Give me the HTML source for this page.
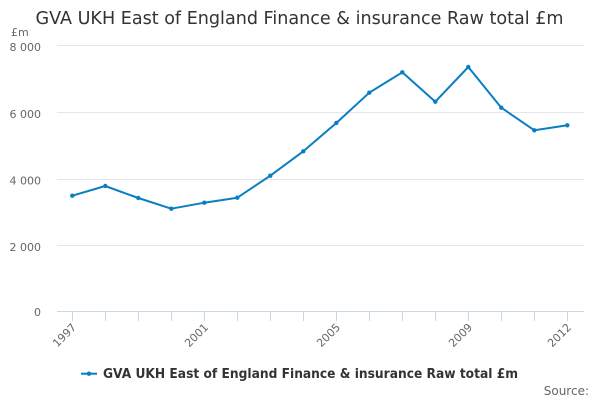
<!DOCTYPE html>
<html><head><meta charset="utf-8"><style>
html,body{margin:0;padding:0;background:#fff;}
svg{display:block;font-family:"DejaVu Sans","Liberation Sans",sans-serif;}
</style></head><body>
<svg width="600" height="400" viewBox="0 0 600 400" xmlns="http://www.w3.org/2000/svg">
<rect width="600" height="400" fill="#fff"/>
<text x="299.5" y="24" text-anchor="middle" font-size="18" fill="#333" textLength="528" lengthAdjust="spacingAndGlyphs">GVA UKH East of England Finance &amp; insurance Raw total £m</text>
<text x="11" y="36" font-size="11" fill="#666">£m</text>
<g stroke="#e6e6e6" stroke-width="1">
<line x1="57" y1="45.5" x2="584" y2="45.5"/>
<line x1="57" y1="112.5" x2="584" y2="112.5"/>
<line x1="57" y1="179.5" x2="584" y2="179.5"/>
<line x1="57" y1="245.5" x2="584" y2="245.5"/>
</g>
<line x1="57" y1="311.5" x2="584" y2="311.5" stroke="#ccd6eb" stroke-width="1"/>
<g stroke="#ccd6eb" stroke-width="1">
<line x1="72.5" y1="311.5" x2="72.5" y2="321"/>
<line x1="105.5" y1="311.5" x2="105.5" y2="321"/>
<line x1="138.5" y1="311.5" x2="138.5" y2="321"/>
<line x1="171.5" y1="311.5" x2="171.5" y2="321"/>
<line x1="204.5" y1="311.5" x2="204.5" y2="321"/>
<line x1="237.5" y1="311.5" x2="237.5" y2="321"/>
<line x1="270.5" y1="311.5" x2="270.5" y2="321"/>
<line x1="303.5" y1="311.5" x2="303.5" y2="321"/>
<line x1="336.5" y1="311.5" x2="336.5" y2="321"/>
<line x1="369.5" y1="311.5" x2="369.5" y2="321"/>
<line x1="402.5" y1="311.5" x2="402.5" y2="321"/>
<line x1="435.5" y1="311.5" x2="435.5" y2="321"/>
<line x1="468.5" y1="311.5" x2="468.5" y2="321"/>
<line x1="501.5" y1="311.5" x2="501.5" y2="321"/>
<line x1="534.5" y1="311.5" x2="534.5" y2="321"/>
<line x1="567.5" y1="311.5" x2="567.5" y2="321"/>
</g>
<g font-size="11" fill="#666" text-anchor="end">
<text x="41" y="51">8 000</text>
<text x="41" y="118">6 000</text>
<text x="41" y="184.5">4 000</text>
<text x="41" y="251">2 000</text>
<text x="41" y="316">0</text>
</g>
<g font-size="11" fill="#666" text-anchor="end">
<text x="77" y="328" transform="rotate(-45 77 328)">1997</text>
<text x="209" y="328" transform="rotate(-45 209 328)">2001</text>
<text x="341" y="328" transform="rotate(-45 341 328)">2005</text>
<text x="473" y="328" transform="rotate(-45 473 328)">2009</text>
<text x="572" y="328" transform="rotate(-45 572 328)">2012</text>
</g>
<polyline fill="none" stroke="#0a7ec3" stroke-width="2" stroke-linejoin="round" points="72.3,195.7 105.3,186 138.3,198 171.3,208.7 204.3,202.7 237.3,197.7 270.3,175.7 303.3,151.3 336.3,123 369.3,92.7 402.3,72.3 435.3,101.7 468.3,67 501.3,107.7 534.3,130.3 567.3,125.3"/>
<g fill="#0a7ec3">
<circle cx="72.3" cy="195.7" r="2.2"/>
<circle cx="105.3" cy="186" r="2.2"/>
<circle cx="138.3" cy="198" r="2.2"/>
<circle cx="171.3" cy="208.7" r="2.2"/>
<circle cx="204.3" cy="202.7" r="2.2"/>
<circle cx="237.3" cy="197.7" r="2.2"/>
<circle cx="270.3" cy="175.7" r="2.2"/>
<circle cx="303.3" cy="151.3" r="2.2"/>
<circle cx="336.3" cy="123" r="2.2"/>
<circle cx="369.3" cy="92.7" r="2.2"/>
<circle cx="402.3" cy="72.3" r="2.2"/>
<circle cx="435.3" cy="101.7" r="2.2"/>
<circle cx="468.3" cy="67" r="2.2"/>
<circle cx="501.3" cy="107.7" r="2.2"/>
<circle cx="534.3" cy="130.3" r="2.2"/>
<circle cx="567.3" cy="125.3" r="2.2"/>
</g>
<line x1="81" y1="373.7" x2="97" y2="373.7" stroke="#0a7ec3" stroke-width="2"/>
<circle cx="89" cy="373.7" r="2.2" fill="#0a7ec3"/>
<text x="103" y="378" font-size="13" font-weight="bold" fill="#333" textLength="415" lengthAdjust="spacingAndGlyphs">GVA UKH East of England Finance &amp; insurance Raw total £m</text>
<text x="589" y="395" font-size="12" fill="#666" text-anchor="end">Source:</text>
</svg>
</body></html>
